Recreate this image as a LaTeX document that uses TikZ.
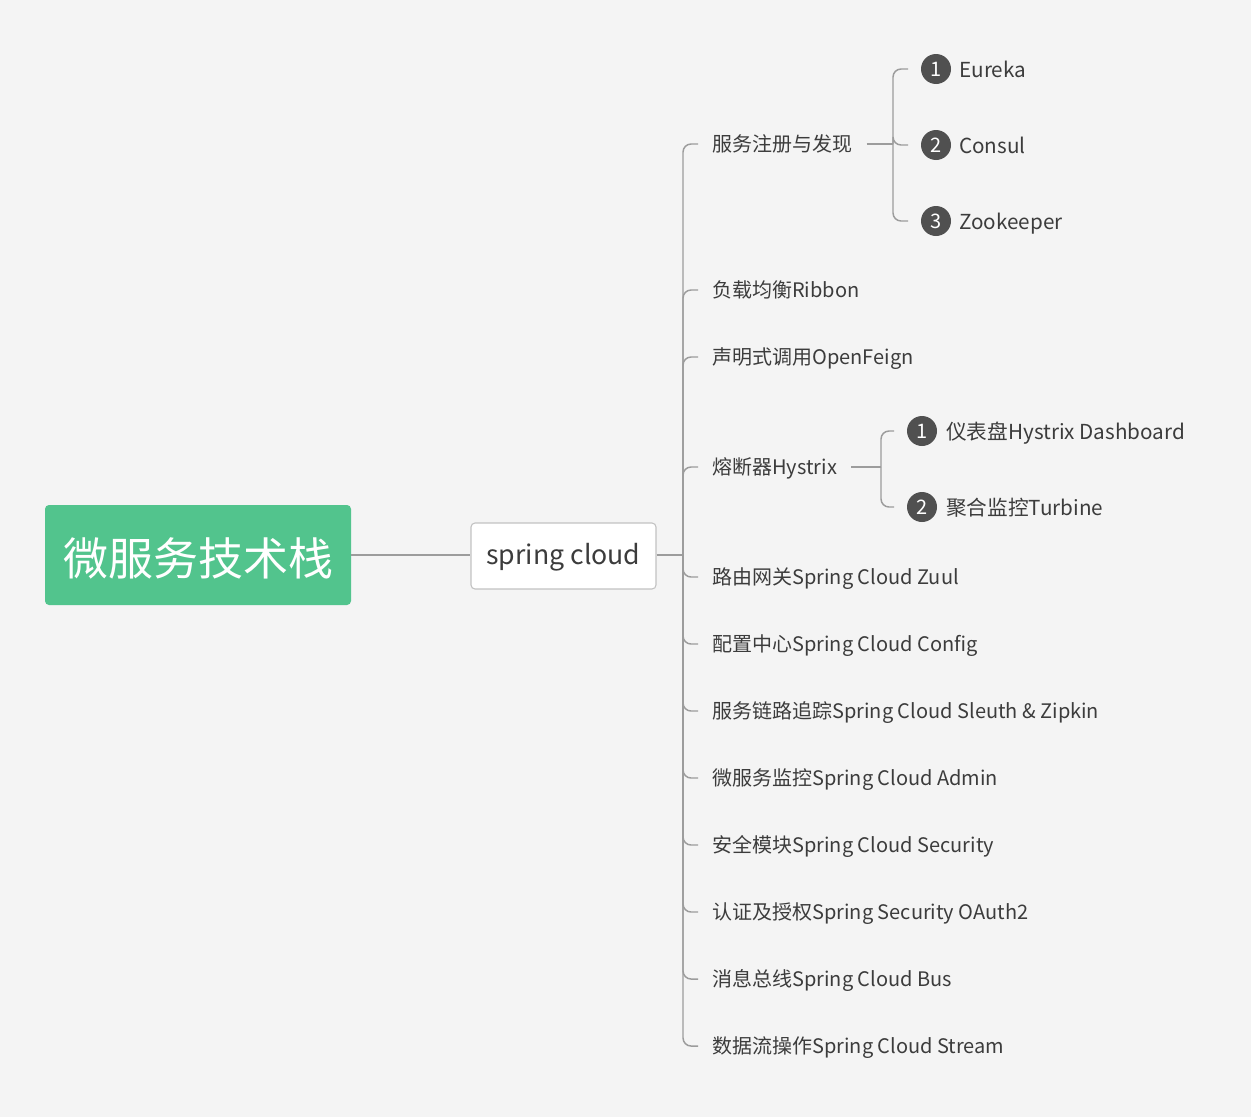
\documentclass[tikz,border=0pt]{standalone}
\usepackage{fontspec}
\setmainfont{Noto Sans CJK SC}
\definecolor{bgc}{HTML}{F4F4F4}
\definecolor{rootc}{HTML}{52C48D}
\definecolor{txtc}{HTML}{3C3C3C}
\definecolor{linec}{HTML}{9C9C9C}
\definecolor{numc}{HTML}{505050}
\definecolor{scb}{HTML}{C2C2C2}
\begin{document}
\begin{tikzpicture}[x=0.75pt,y=-0.75pt,
  conn/.style={draw=linec,line width=1.1pt,rounded corners=6pt},
  rootbox/.style={fill=rootc,rounded corners=3pt,minimum width=229.5pt,minimum height=75pt,text=white,font=\fontsize{33.75}{40}\selectfont,inner sep=0pt,text height=34.5pt,text depth=4pt},
  scbox/.style={fill=white,draw=scb,line width=0.8pt,rounded corners=3pt,minimum width=138.75pt,minimum height=49.5pt,text=txtc,font=\fontsize{20}{24}\selectfont,inner sep=0pt,text height=16pt,text depth=3pt},
  leaf/.style={anchor=west,inner xsep=10.5pt,inner ysep=2pt,text=txtc,font=\fontsize{15}{18}\selectfont,text height=13.4pt,text depth=2pt},
  subleaf/.style={anchor=west,inner xsep=0pt,inner ysep=2pt,text=txtc,font=\fontsize{15.5}{18}\selectfont,text height=13.6pt,text depth=2pt},
  num/.style={circle,fill=numc,minimum size=22.5pt,inner sep=0pt,outer sep=9.75pt,text=white,font=\fontsize{15}{16}\selectfont}
]
\useasboundingbox (0,0) rectangle (1251,1117);
\fill[bgc] (0,0) rectangle (1251,1117);

\node[rootbox] (root) at (198,555) {微服务技术栈};
\node[scbox] (sc) at (563.5,556) {spring cloud};
\draw[conn] (root.east) -- (root.east -| sc.west);
\coordinate (tk) at (683,555);
\draw[conn] (sc.east |- tk) -- (tk);

\node[leaf] (c1) at (698,144) {服务注册与发现};
\node[leaf] (c2) at (698,290) {负载均衡Ribbon};
\node[leaf] (c3) at (698,357) {声明式调用OpenFeign};
\node[leaf] (c4) at (698,467) {熔断器Hystrix};
\node[leaf] (c5) at (698,577) {路由网关Spring Cloud Zuul};
\node[leaf] (c6) at (698,644) {配置中心Spring Cloud Config};
\node[leaf] (c7) at (698,711) {服务链路追踪Spring Cloud Sleuth \& Zipkin};
\node[leaf] (c8) at (698,778) {微服务监控Spring Cloud Admin};
\node[leaf] (c9) at (698,845) {安全模块Spring Cloud Security};
\node[leaf] (c10) at (698,912) {认证及授权Spring Security OAuth2};
\node[leaf] (c11) at (698,979) {消息总线Spring Cloud Bus};
\node[leaf] (c12) at (698,1046) {数据流操作Spring Cloud Stream};

\foreach \i in {1,...,12}{\draw[conn] (tk) |- (c\i.west);}

% service registry sub-branch
\coordinate (ja) at (893,144);
\draw[conn] (c1.east) -- (ja);
\node[num] (n11) at (936,69) {1};
\node[num] (n12) at (936,145) {2};
\node[num] (n13) at (936,221) {3};
\node[subleaf] (s11) at (959,70) {Eureka};
\node[subleaf] (s12) at (959,146) {Consul};
\node[subleaf] (s13) at (959,222) {Zookeeper};
\draw[conn] (ja) |- (n11.west);
\draw[conn] (ja) |- (n12.west);
\draw[conn] (ja) |- (n13.west);

% hystrix sub-branch
\coordinate (jb) at (881,467);
\draw[conn] (c4.east) -- (jb);
\node[num] (n21) at (922,431) {1};
\node[num] (n22) at (922,507) {2};
\node[subleaf] (s21) at (946,432) {仪表盘Hystrix Dashboard};
\node[subleaf] (s22) at (946,508) {聚合监控Turbine};
\draw[conn] (jb) |- (n21.west);
\draw[conn] (jb) |- (n22.west);
\end{tikzpicture}
\end{document}
